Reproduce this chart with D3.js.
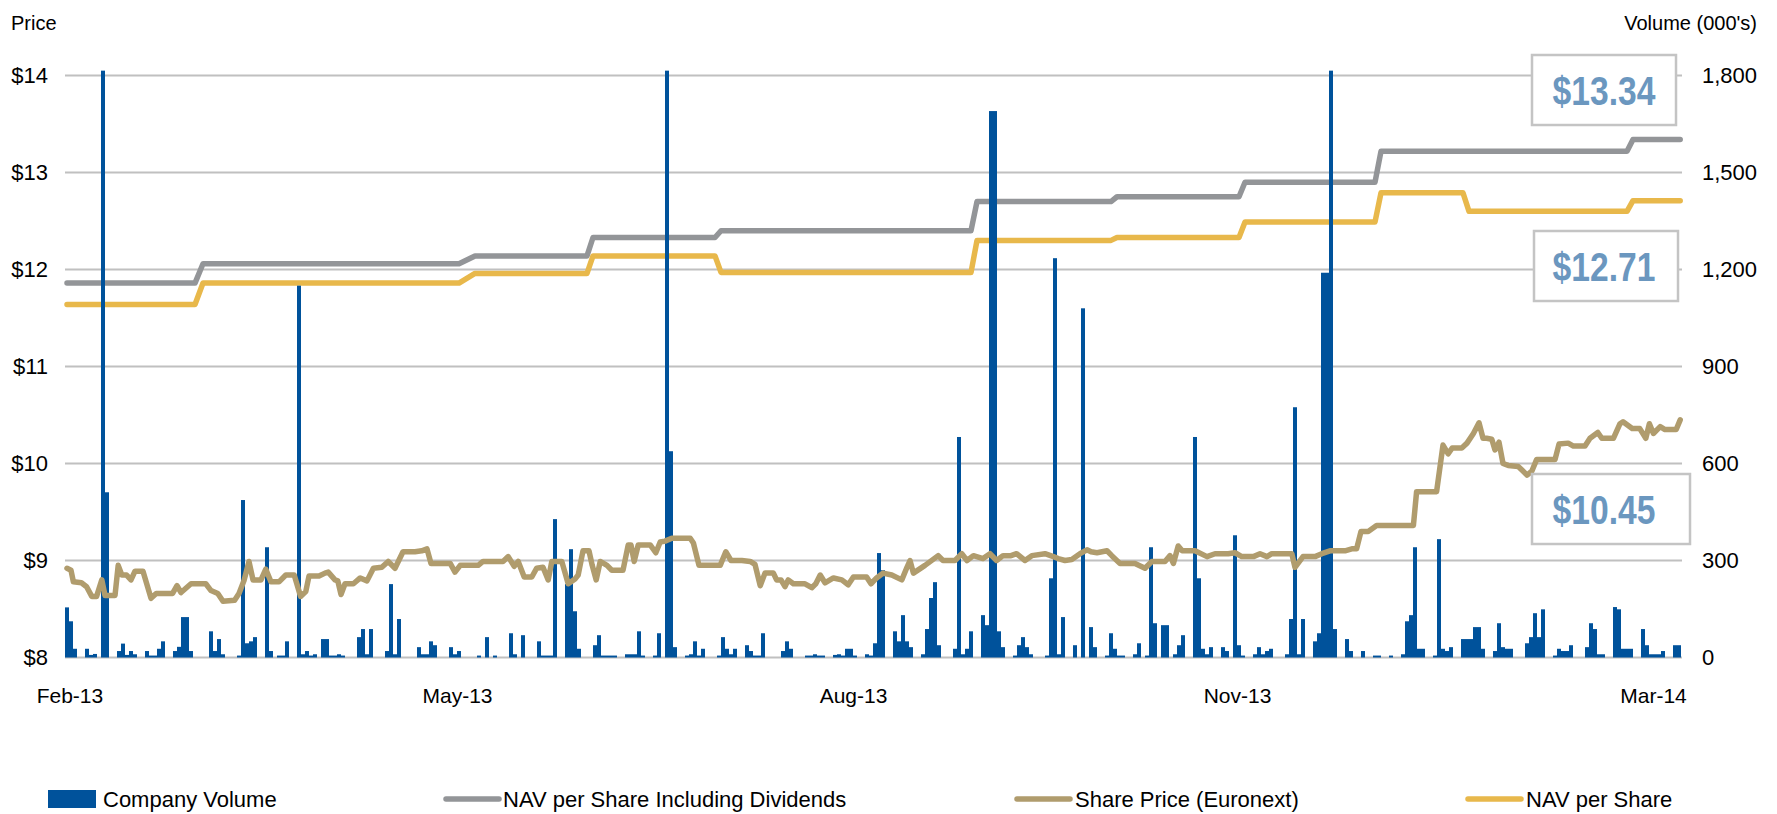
<!DOCTYPE html>
<html><head><meta charset="utf-8">
<script src="https://cdn.jsdelivr.net/npm/d3@7"></script>
<style>
body{margin:0;background:#fff}
svg{display:block}
text{font-family:"Liberation Sans",Arial,Helvetica,sans-serif}
</style>
</head><body>
<svg id="chart" width="1777" height="814"></svg>
<script>
// ---------------- DATA ----------------
// day offsets along the time axis (one slot per calendar day)
const volumeDays = [0,1,2,5,6,7,9,10,13,14,15,16,17,20,21,22,23,24,27,28,29,30,31,36,37,38,39,43,44,45,46,47,50,51,53,54,55,58,59,60,61,62,
64,65,66,67,68,69,73,74,75,76,80,81,82,83,88,89,90,91,92,96,97,98,103,105,107,111,112,114,118,119,120,121,122,125,126,127,128,
132,133,134,135,136,137,140,141,142,143,144,147,148,150,151,152,155,156,157,158,159,163,164,165,166,167,170,171,172,173,174,179,180,181,185,186,187,188,189,192,
193,194,195,196,197,200,201,202,203,204,207,208,209,210,211,214,215,216,217,218,222,223,224,225,226,229,230,231,232,233,234,237,238,239,240,241,245,246,247,248,249,252,254,256,257,
260,261,262,263,264,267,268,270,271,272,274,275,277,278,279,282,283,284,285,286,289,290,292,293,294,297,298,299,300,301,305,306,307,308,309,312,313,314,315,316,317,320,321,
324,327,328,331,334,335,336,337,338,339,342,343,344,345,346,349,350,351,352,353,354,357,358,359,360,361,365,366,367,368,369,372,373,374,375,376,380,381,382,383,384,387,388,389,390,391,394,395,396,397,398,399,402,403];
const volumeK = [155,112,27,27,8,11,1815,511,20,43,8,20,10,20,6,6,27,50,20,33,125,125,20,81,20,57,10,6,487,44,50,63,341,20,6,6,50,1150,10,20,6,10,
57,57,6,6,10,6,63,88,10,88,20,227,10,119,32,10,10,50,38,32,10,20,6,63,6,75,10,69,50,6,6,6,428,227,335,143,27,
38,69,6,6,6,6,10,10,10,81,6,6,75,1815,638,32,6,10,50,6,27,6,63,27,10,27,38,20,6,6,75,20,50,27,6,6,10,6,6,8,
10,6,27,27,6,10,6,44,323,270,81,50,131,50,32,10,88,184,233,38,27,682,10,27,81,131,100,1690,1690,81,32,6,38,63,32,10,6,245,1235,10,125,38,1080,94,32,
6,75,27,6,6,10,44,6,341,106,100,100,10,38,69,682,245,27,10,32,32,20,378,38,6,10,32,10,20,27,10,119,774,10,119,50,75,1190,1190,1815,88,57,20,
20,6,6,6,10,112,131,341,27,27,6,366,27,20,32,57,57,57,94,94,27,20,106,32,27,27,44,63,137,63,149,6,27,20,20,38,32,106,88,10,10,156,149,27,27,27,88,38,10,10,10,20,38,38];

const sharePriceDays = [0,1,1.6,3.6,4.9,6.2,7.4,8.7,9.5,12,12.8,13.7,14.9,16,17,19,21,22.3,26.4,27.5,28.5,31,34.7,36,37.7,39,41.9,43,44.3,45.5,46.5,48.5,49.7,51,53,54.7,56.8,58.4,59.7,60.5,63,
64.5,65.3,67,67.7,68.5,69.5,71.6,73.3,75,76.6,78.7,80.3,82,84,87,88.7,90,91,95.8,97,98.3,102.8,104,109,110.3,111.8,112.8,114.3,116.2,117.4,119,120.3,121.2,123.7,125.3,127,
127.8,129,130.5,131.3,132.3,133.3,135,136.2,139,140.3,141,141.8,142.8,145.8,147.2,148.3,149.5,151.2,155.8,156.6,158,163.3,164.7,166,168.7,170.8,172,173.3,174.5,176.6,177.4,178.5,179.5,180.3,181.6,184.5,186.2,187.2,188.3,189.5,191.6,
193.7,195.3,196.6,199.9,201,202.4,204,206.2,208.7,210,210.75,211.6,214.5,217.8,219,222,223.7,225,226.6,229,230.75,232.4,234,236,237.4,239.5,241.2,244.5,246.6,247.8,249.5,251.2,253.25,255,256,
257.5,260,261.2,263.25,267,269.5,271.2,274.5,275.75,276.6,277.8,278.8,282,285,287,290.3,292,293.7,296.6,298.25,300,301.2,306.2,307,309,312,313.7,315.75,319.5,321.2,322.4,
323.5,325.3,327.4,336.6,337.4,342.4,344,345.3,346.3,348.7,350,351.6,353,354,354.9,356.2,357,358,359,360.3,362.8,363.8,365,366.2,367.4,372,373,375.3,376.6,379.5,380.75,382.7,383.7,386.6,388.25,
389,391.3,393.2,394.7,395.6,396.6,398.3,399.5,402.3,403.3];
const sharePrice = [8.92,8.90,8.78,8.77,8.73,8.63,8.63,8.80,8.64,8.64,8.95,8.85,8.85,8.80,8.89,8.89,8.61,8.66,8.66,8.74,8.67,8.76,8.76,8.69,8.66,8.58,8.59,8.66,8.80,8.99,8.80,8.80,8.91,8.78,8.78,8.85,8.85,8.63,8.68,8.84,8.84,
8.87,8.88,8.80,8.79,8.65,8.76,8.76,8.82,8.79,8.92,8.93,8.99,8.92,9.09,9.09,9.10,9.12,8.97,8.97,8.88,8.95,8.95,8.99,8.99,9.04,8.94,8.99,8.83,8.83,8.92,8.93,8.80,8.99,8.99,8.76,8.81,
8.85,9.10,9.10,8.95,8.80,8.99,8.95,8.90,8.90,9.16,9.16,8.99,9.16,9.16,9.08,9.19,9.20,9.23,9.23,9.18,8.95,8.95,9.09,9.00,9.00,8.99,8.96,8.74,8.87,8.87,8.80,8.80,8.73,8.80,8.76,8.76,8.72,8.76,8.85,8.77,8.82,
8.80,8.75,8.83,8.83,8.76,8.82,8.87,8.85,8.80,8.93,9.00,8.87,8.95,9.05,9.00,9.00,9.07,9.00,9.05,9.02,9.07,9.00,9.05,9.05,9.07,9.00,9.05,9.07,9.04,9.02,9.00,9.01,9.07,9.11,9.09,
9.08,9.10,9.05,8.97,8.97,8.92,8.99,8.99,9.05,8.97,9.15,9.10,9.10,9.04,9.07,9.07,9.08,9.04,9.04,9.07,9.04,9.07,9.07,8.93,9.04,9.04,9.07,9.10,9.10,9.12,9.12,
9.30,9.30,9.36,9.36,9.71,9.71,10.19,10.10,10.16,10.16,10.21,10.31,10.42,10.26,10.26,10.25,10.14,10.22,10.00,9.98,9.97,9.93,9.88,9.92,10.04,10.04,10.20,10.21,10.18,10.18,10.26,10.32,10.26,10.26,10.41,
10.43,10.36,10.36,10.26,10.41,10.31,10.38,10.35,10.35,10.45];

const navDays = [0,32,34,98,102,130,131.5,162,163.5,226,227.5,261,262.5,293,294.5,327,328.5,349,350.5,390,391.5,403.3];
const navPerShare = [11.64,11.64,11.86,11.86,11.96,11.96,12.14,12.14,11.97,11.97,12.30,12.30,12.33,12.33,12.49,12.49,12.79,12.79,12.60,12.60,12.71,12.71];
const navInclDivDays = [0,32,34,98,102,130,131.5,162,163.5,226,227.5,261,262.5,293,294.5,327,328.5,390,391.5,403.3];
const navInclDiv = [11.86,11.86,12.06,12.06,12.14,12.14,12.33,12.33,12.40,12.40,12.70,12.70,12.75,12.75,12.90,12.90,13.22,13.22,13.34,13.34];

const priceTicks = [8,9,10,11,12,13,14];
const volumeTicks = [0,300,600,900,1200,1500,1800];
const monthTickDays = [0.6,97.5,196.5,292.5,396.5];
const monthTickLabels = ["Feb-13","May-13","Aug-13","Nov-13","Mar-14"];
const latestLabels = ["$13.34","$12.71","$10.45"];
const legendLabels = ["Company Volume","NAV per Share Including Dividends","Share Price (Euronext)","NAV per Share"];

// ---------------- DRAW ----------------
const svg = d3.select("#chart");
const C = {bar:"#00529b", grey:"#939598", tan:"#b09c6d", gold:"#e8b84b", grid:"#c0c0c0", label:"#6b97bf", box:"#c4c4c4"};

const x = d3.scaleLinear().domain([-0.5, 403.5]).range([65, 1681]);
const yP = d3.scaleLinear().domain([8, 14]).range([657.5, 75.5]);
const yV = d3.scaleLinear().domain([0, 1800]).range([657.5, 75.5]);

// gridlines
svg.append("g").selectAll("line").data(priceTicks).join("line")
  .attr("x1", 65).attr("x2", 1682)
  .attr("y1", d => yP(d)).attr("y2", d => yP(d))
  .attr("stroke", C.grid).attr("stroke-width", 2);

const line = d3.line().x(d => x(d[0])).y(d => yP(d[1]));
function drawLine(days, vals, color, w) {
  svg.append("path").datum(days.map((d, i) => [d, vals[i]]))
    .attr("d", line).attr("fill", "none").attr("stroke", color)
    .attr("stroke-width", w).attr("stroke-linejoin", "round").attr("stroke-linecap", "round");
}
drawLine(navInclDivDays, navInclDiv, C.grey, 5.5);
drawLine(navDays, navPerShare, C.gold, 5.5);

// volume bars
const bw = x(1) - x(0);
svg.append("g").selectAll("rect").data(volumeDays.map((d, i) => [d, volumeK[i]])).join("rect")
  .attr("x", d => x(d[0]) - bw / 2).attr("width", bw)
  .attr("y", d => yV(d[1])).attr("height", d => yV(0) - yV(d[1]))
  .attr("fill", C.bar);

drawLine(sharePriceDays, sharePrice, C.tan, 5.5);

// latest value boxes
const boxes = [
  {x: 1532, y: 55, w: 144, h: 70},
  {x: 1534, y: 231, w: 144, h: 70},
  {x: 1532, y: 474, w: 158, h: 70}
];
boxes.forEach((b, i) => {
  svg.append("rect").attr("x", b.x).attr("y", b.y).attr("width", b.w).attr("height", b.h)
    .attr("fill", "#fff").attr("stroke", C.box).attr("stroke-width", 2.5);
  svg.append("text").attr("transform", `translate(1604,${b.y + b.h / 2 + 15}) scale(0.82,1)`)
    .attr("text-anchor", "middle").attr("font-size", 41).attr("font-weight", "bold")
    .attr("fill", C.label).text(latestLabels[i]);
});

// axes
const axL = svg.append("g").attr("transform", "translate(65,0)")
  .call(d3.axisLeft(yP).tickValues(priceTicks).tickFormat(d => "$" + d).tickSize(0).tickPadding(17));
const axR = svg.append("g").attr("transform", "translate(1682,0)")
  .call(d3.axisRight(yV).tickValues(volumeTicks).tickFormat(d3.format(",")).tickSize(0).tickPadding(20));
const axB = svg.append("g").attr("transform", "translate(0,657.5)")
  .call(d3.axisBottom(x).tickValues(monthTickDays).tickFormat((d, i) => monthTickLabels[i]).tickSize(0).tickPadding(31));
[axL, axR].forEach(a => {
  a.select(".domain").remove();
  a.selectAll("text").attr("font-size", 22).attr("fill", "#000").style("font-family", '"Liberation Sans",Arial,sans-serif');
});
axB.select(".domain").remove();
axB.selectAll("text").attr("font-size", 21).attr("fill", "#000").style("font-family", '"Liberation Sans",Arial,sans-serif');

svg.append("text").attr("x", 11).attr("y", 30).attr("font-size", 20).attr("fill", "#000").text("Price");
svg.append("text").attr("x", 1757).attr("y", 30).attr("text-anchor", "end").attr("font-size", 20).attr("fill", "#000").text("Volume (000's)");

// legend
const lg = svg.append("g");
lg.append("rect").attr("x", 48).attr("y", 790).attr("width", 48).attr("height", 18).attr("fill", C.bar);
[[446, 499, C.grey], [1017, 1070, C.tan], [1468, 1521, C.gold]].forEach(k => {
  lg.append("line").attr("x1", k[0]).attr("x2", k[1]).attr("y1", 799).attr("y2", 799)
    .attr("stroke", k[2]).attr("stroke-width", 5.5).attr("stroke-linecap", "round");
});
[103, 503, 1075, 1526].forEach((lx, i) => {
  lg.append("text").attr("x", lx).attr("y", 807).attr("font-size", 22).attr("fill", "#000").text(legendLabels[i]);
});
</script>
</body></html>
